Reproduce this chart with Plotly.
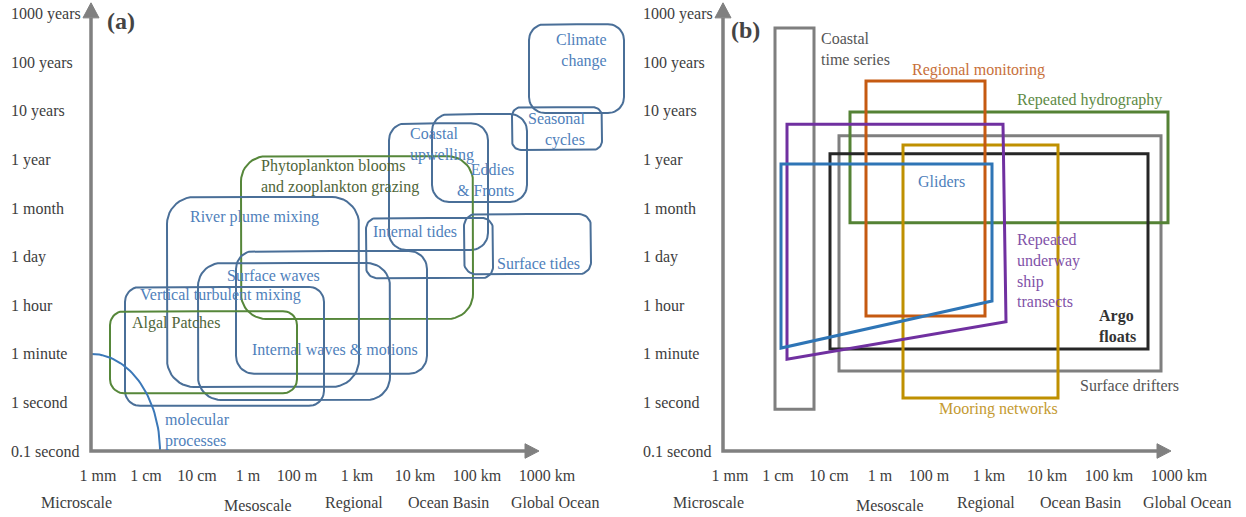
import numpy as np
import plotly.graph_objects as go

# ---------------- axis ticks (shared by both panels) ----------------
time_labels = ["0.1 second", "1 second", "1 minute", "1 hour", "1 day",
               "1 month", "1 year", "10 years", "100 years", "1000 years"]
time_pos = list(range(10))
length_labels = ["1 mm", "1 cm", "10 cm", "1 m", "100 m", "1 km", "10 km", "100 km", "1000 km"]
length_pos = [0, 0.96, 1.98, 3.0, 3.98, 5.18, 6.34, 7.58, 8.98]
scale_names = ["Microscale", "Mesoscale", "Regional", "Ocean Basin", "Global Ocean"]
scale_x = [-0.44, 3.2, 5.12, 7.0, 9.14]
scale_y = [-1.05, -1.13, -1.07, -1.07, -1.07]

# ---------------- panel (a): processes ----------------
proc_names = ["Climate change", "Seasonal cycles", "Eddies & Fronts", "Coastal upwelling",
              "Phytoplankton blooms", "River plume mixing", "Internal tides", "Surface tides",
              "Surface waves", "Internal waves & motions", "Vertical turbulent mixing", "Algal Patches"]
proc_x0 = [8.62, 8.28, 6.68, 5.82, 2.86, 1.38, 5.36, 7.32, 2.00, 2.76, 0.54, 0.24]
proc_x1 = [10.52, 10.08, 8.58, 7.80, 7.50, 5.22, 7.90, 9.86, 5.84, 6.58, 4.52, 3.98]
proc_y0 = [6.96, 6.20, 5.13, 4.14, 2.72, 1.32, 3.56, 3.64, 1.05, 1.59, 0.93, 1.19]
proc_y1 = [8.79, 7.08, 6.94, 6.75, 6.07, 5.23, 4.80, 4.88, 3.87, 4.12, 3.38, 2.88]
proc_kind = ["phys", "phys", "phys", "phys", "bio", "phys", "phys", "phys",
             "phys", "phys", "phys", "bio"]

# molecular processes curve: reaches 1 minute on the time axis and 1.24 on length axis
mol_time_top = 2.0
mol_length_end = 1.24

# panel (a) labels
a_texts = ["Climate<br>change", "Seasonal<br>cycles", "Eddies<br>& Fronts", "Coastal<br>upwelling",
           "Phytoplankton blooms<br>and zooplankton grazing", "River plume mixing",
           "Internal tides", "Surface tides", "Surface waves", "Vertical turbulent mixing",
           "Algal Patches", "Internal waves & motions", "molecular<br>processes"]
a_tx = [10.22, 9.78, 8.36, 6.20, 3.22, 1.80, 5.46, 9.68, 2.54, 0.80, 0.64, 3.04, 1.30]
a_ty = [8.24, 6.63, 5.58, 6.32, 5.65, 4.82, 4.53, 3.87, 3.62, 3.21, 2.64, 2.10, 0.42]
a_anchor = ["right", "right", "right", "left", "left", "left", "left", "right",
            "left", "left", "left", "left", "left"]
a_kind = ["phys", "phys", "phys", "phys", "bio", "phys", "phys", "phys",
          "phys", "phys", "bio", "phys", "mol"]

# ---------------- panel (b): observing systems ----------------
obs_names = ["Coastal time series", "Surface drifters", "Repeated hydrography", "Argo floats",
             "Mooring networks", "Regional monitoring", "Repeated underway ship transects", "Gliders"]
# quadrilaterals: (top-left, top-right, bottom-right, bottom-left)
obs_xl_top = [0.90, 2.18, 2.40, 2.00, 3.46, 2.72, 1.14, 1.02]
obs_xr_top = [1.68, 8.62, 8.76, 8.36, 6.56, 5.10, 5.46, 5.24]
obs_xr_bot = [1.68, 8.62, 8.76, 8.36, 6.56, 5.10, 5.52, 5.24]
obs_xl_bot = [0.90, 2.18, 2.40, 2.00, 3.46, 2.72, 1.14, 1.02]
obs_y_top = [8.71, 6.49, 6.98, 6.12, 6.30, 7.62, 6.73, 5.91]
obs_yl_bot = [0.86, 1.65, 4.70, 2.10, 1.09, 2.78, 1.89, 2.12]
obs_yr_bot = [0.86, 1.65, 4.70, 2.10, 1.09, 2.78, 2.66, 3.09]

b_texts = ["Coastal<br>time series", "Surface drifters", "Repeated hydrography", "<b>Argo<br>floats</b>",
           "Mooring networks", "Regional monitoring", "Repeated<br>underway<br>ship<br>transects", "Gliders"]
b_tx = [1.78, 6.96, 8.68, 7.34, 4.14, 3.60, 5.70, 3.72]
b_ty = [8.28, 1.34, 7.23, 2.57, 0.86, 7.85, 3.71, 5.56]
b_anchor = ["left", "left", "right", "left", "left", "left", "left", "left"]

# ---------------- styles ----------------
FONT = "Liberation Serif, Times New Roman, serif"
FS = 16
AXIS_GRAY = "#808080"
TICK_COLOR = "#3d3d3d"
PX_X, PX_Y = 50.0, 48.56          # pixels per axis unit (from layout below)
AXIS_X0 = -0.14                    # where the vertical axis arrow sits
X_ARROW_BASE, X_ARROW_TIP = 8.54, 8.82
Y_ARROW_BASE, Y_ARROW_TIP = 8.92, 9.23
proc_radius_px = [16, 9, 17, 17, 25, 27, 11, 12, 23, 18, 15, 14]
kind_line = {"phys": "#4a6f98", "bio": "#56873a"}
kind_text = {"phys": "#4f7fbb", "bio": "#4f6539", "mol": "#4f7fbb"}
obs_line = ["#7f7f7f", "#7f7f7f", "#548235", "#262626", "#bf9000", "#c55a11", "#7030a0", "#2e75b6"]
obs_text = ["#555555", "#555555", "#5e8a45", "#333333", "#c49a30", "#c8703a", "#7f52a8", "#4f7fbb"]

W, H = 1246, 517


def rounded_rect(x0, x1, y0, y1, rpx):
    rx, ry = rpx / PX_X, rpx / PX_Y
    xs, ys = [(x0 + x1) / 2], [y1]
    corners = [((x0 + rx, y1 - ry), 90, 180), ((x0 + rx, y0 + ry), 180, 270),
               ((x1 - rx, y0 + ry), 270, 360), ((x1 - rx, y1 - ry), 0, 90)]
    for (cx, cy), a0, a1 in corners:
        t = np.radians(np.linspace(a0, a1, 12))
        xs += list(cx + rx * np.cos(t))
        ys += list(cy + ry * np.sin(t))
    xs.append((x0 + x1) / 2)
    ys.append(y1)
    return xs, ys


fig = go.Figure()

# panel (a) boxes
for i in range(len(proc_names)):
    xs, ys = rounded_rect(proc_x0[i], proc_x1[i], proc_y0[i], proc_y1[i], proc_radius_px[i])
    fig.add_trace(go.Scatter(x=xs, y=ys, mode="lines", xaxis="x", yaxis="y",
                             line=dict(color=kind_line[proc_kind[i]], width=2),
                             hoverinfo="skip", showlegend=False, name=proc_names[i]))

# molecular processes curve
t = np.radians(np.linspace(90, 0, 40))
fig.add_trace(go.Scatter(x=AXIS_X0 + (mol_length_end - AXIS_X0) * np.cos(t),
                         y=mol_time_top * np.sin(t), mode="lines", xaxis="x", yaxis="y",
                         line=dict(color="#3b78b8", width=2), hoverinfo="skip",
                         showlegend=False, name="molecular processes"))

# panel (b) boxes
for i in range(len(obs_names)):
    xm = (obs_xl_top[i] + obs_xr_top[i]) / 2
    xs = [xm, obs_xr_top[i], obs_xr_bot[i], obs_xl_bot[i], obs_xl_top[i], xm]
    ys = [obs_y_top[i], obs_y_top[i], obs_yr_bot[i], obs_yl_bot[i], obs_y_top[i], obs_y_top[i]]
    fig.add_trace(go.Scatter(x=xs, y=ys, mode="lines", xaxis="x2", yaxis="y2",
                             line=dict(color=obs_line[i], width=3),
                             hoverinfo="skip", showlegend=False, name=obs_names[i]))

annotations = []
shapes = []
for xr, yr in [("x", "y"), ("x2", "y2")]:
    # y tick labels, left aligned
    for lab, p in zip(time_labels, time_pos):
        annotations.append(dict(x=-1.78, y=p, xref=xr, yref=yr, text=lab, showarrow=False,
                                xanchor="left", yanchor="middle",
                                font=dict(family=FONT, size=FS, color=TICK_COLOR)))
    for lab, sx, sy in zip(scale_names, scale_x, scale_y):
        annotations.append(dict(x=sx, y=sy, xref=xr, yref=yr, text=lab, showarrow=False,
                                xanchor="center", yanchor="middle",
                                font=dict(family=FONT, size=FS, color=TICK_COLOR)))
    # axis arrows
    shapes.append(dict(type="path", xref=xr, yref=yr,
                       path=f"M {AXIS_X0},{Y_ARROW_BASE} L {AXIS_X0},0 L {X_ARROW_BASE},0",
                       line=dict(color=AXIS_GRAY, width=3.5)))
    shapes.append(dict(type="path", xref=xr, yref=yr,
                       path=f"M {X_ARROW_BASE},-0.15 L {X_ARROW_TIP},0 L {X_ARROW_BASE},0.15 Z",
                       fillcolor=AXIS_GRAY, line=dict(color=AXIS_GRAY, width=1)))
    shapes.append(dict(type="path", xref=xr, yref=yr,
                       path=f"M {AXIS_X0 - 0.16},{Y_ARROW_BASE} L {AXIS_X0},{Y_ARROW_TIP} "
                            f"L {AXIS_X0 + 0.16},{Y_ARROW_BASE} Z",
                       fillcolor=AXIS_GRAY, line=dict(color=AXIS_GRAY, width=1)))

for txt, x, y, anc, k in zip(a_texts, a_tx, a_ty, a_anchor, a_kind):
    annotations.append(dict(x=x, y=y, xref="x", yref="y", text=txt, showarrow=False,
                            xanchor=anc, yanchor="middle", align=anc,
                            font=dict(family=FONT, size=FS, color=kind_text[k])))
for txt, x, y, anc, c in zip(b_texts, b_tx, b_ty, b_anchor, obs_text):
    annotations.append(dict(x=x, y=y, xref="x2", yref="y2", text=txt, showarrow=False,
                            xanchor=anc, yanchor="middle", align=anc,
                            font=dict(family=FONT, size=FS, color=c)))

# panel letters
annotations.append(dict(x=0.14, y=8.85, xref="x", yref="y", text="<b>(a)</b>", showarrow=False,
                        xanchor="left", yanchor="middle",
                        font=dict(family=FONT, size=24, color="#444444")))
annotations.append(dict(x=-0.02, y=8.68, xref="x2", yref="y2", text="<b>(b)</b>", showarrow=False,
                        xanchor="left", yanchor="middle",
                        font=dict(family=FONT, size=24, color="#444444")))

xaxis_common = dict(showgrid=False, zeroline=False, showline=False, ticks="",
                    tickvals=length_pos, ticktext=length_labels, anchor="free",
                    position=(H - 451) / H, ticklabelstandoff=13,
                    tickfont=dict(family=FONT, size=FS, color=TICK_COLOR), fixedrange=True)
yaxis_common = dict(visible=False, domain=[0, 1], range=[-1.359, 9.288], fixedrange=True)

fig.update_layout(
    width=W, height=H, margin=dict(l=0, r=0, t=0, b=0), autosize=False,
    paper_bgcolor="white", plot_bgcolor="white",
    xaxis=dict(domain=[0, 630 / W], range=[-1.96, 10.64], **xaxis_common),
    xaxis2=dict(domain=[632 / W, 1], range=[-1.96, 10.32], **xaxis_common),
    yaxis=dict(anchor="x", **yaxis_common),
    yaxis2=dict(anchor="x2", **yaxis_common),
    annotations=annotations, shapes=shapes,
    font=dict(family=FONT, size=FS),
)

fig.write_html("out.html")
